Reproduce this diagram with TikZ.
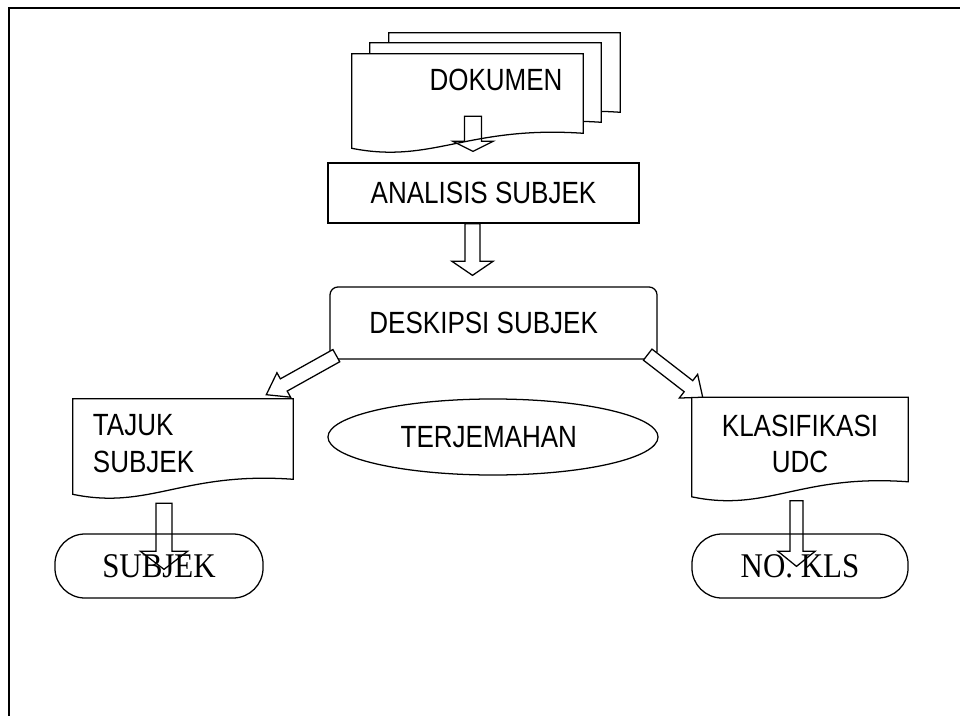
\documentclass[tikz,border=0pt]{standalone}
\usepackage{fontspec}
\setmainfont{Liberation Sans}
\newfontfamily\timesfont{Liberation Serif}
\usetikzlibrary{calc,shapes}

\pgfdeclarelayer{background}
\pgfsetlayers{background,main}

\tikzset{
  box/.style={draw, line width=0.9pt, fill=white, inner sep=0pt, font=\fontsize{18.5}{22}\selectfont},
  docbox/.style={inner sep=0pt, font=\fontsize{18.5}{22}\selectfont},
  term/.style={draw, line width=0.9pt, rounded corners=0.75cm, inner sep=0pt, minimum width=#1, minimum height=1.6cm, font=\timesfont\fontsize{22}{26}\selectfont},
  barrow/.style={draw, line width=0.9pt, line join=miter}
}

% text drawn a little taller than wide, as in the scan
\newcommand{\tall}[2][1.18]{\scalebox{1}[#1]{#2}}

% outline of a document page (wavy bottom) round a node
\newcommand{\docline}[1]{%
  \begin{pgfonlayer}{background}
    \draw[line width=0.9pt, fill=white] (#1.south west) -- (#1.north west) -- (#1.north east) -- ($(#1.south east)+(0,-15)$)
      .. controls ($(#1.south)+(0,-23)$) and ($(#1.south west)!0.35!(#1.south east)+(0,16)$) .. (#1.south west) -- cycle;
  \end{pgfonlayer}}

% hollow block arrow: [opts]{from}{to}{shaft half width}{head half width}{head length}, in px
\newcommand{\blockarrow}[6][]{%
  \path ($(#3)!#6*0.025cm!(#2)$) coordinate (hb);
  \draw[barrow,#1] ($(#2)!#4*0.025cm!90:(#3)$) -- ($(hb)!#4*0.025cm!90:(#3)$) -- ($(hb)!#5*0.025cm!90:(#3)$) -- (#3)
    -- ($(hb)!#5*0.025cm!-90:(#3)$) -- ($(hb)!#4*0.025cm!-90:(#3)$) -- ($(#2)!#4*0.025cm!-90:(#3)$) -- cycle;}

\begin{document}
\begin{tikzpicture}[x=0.025cm, y=-0.025cm]
  \useasboundingbox (0,0) rectangle (960,716);
  \draw[line width=1.3pt] (960,8) -- (9,8) -- (9,716);

  % the stack of documents
  \node[docbox, minimum width=5.775cm, minimum height=2.35cm] (dokback) at (504.5,80) {};
  \node[docbox, minimum width=5.775cm, minimum height=2.35cm] (dokmid) at (485.5,90) {};
  \node[docbox, minimum width=5.775cm, minimum height=2.35cm] (dok) at (467.5,101) {};
  \docline{dokback}
  \docline{dokmid}
  \docline{dok}
  \node[docbox] (doktext) at (496,80) {\tall{DOKUMEN}};

  \node[box, minimum width=7.775cm, minimum height=1.5cm] (analisis) at (483.5,193) {\tall{ANALISIS SUBJEK}};
  \node[box, rounded corners=0.2cm, minimum width=8.175cm, minimum height=1.8cm] (deskripsi) at (493.5,323) {\tall{DESKIPSI SUBJEK\hspace{14pt}}};

  \node[docbox, minimum width=5.5cm, minimum height=2.375cm, text width=4.5cm, align=left] (tajuk) at (183,446.5)
    {\tall{\begin{tabular}{@{}l@{}}TAJUK\\SUBJEK\end{tabular}}};
  \node[docbox, minimum width=5.4cm, minimum height=2.475cm, align=center] (klas) at (800,447)
    {\tall{\begin{tabular}{@{}c@{}}KLASIFIKASI\\UDC\end{tabular}}};
  \docline{tajuk}
  \docline{klas}

  \node[box, ellipse, minimum width=8.25cm, minimum height=1.9cm] (terjemah) at (493,437) {\tall{TERJEMAHAN\hspace{6pt}}};

  \node[term=5.2cm] (subjek) at (159,566) {\tall[1.12]{SUBJEK}};
  \node[term=5.4cm] (nokls) at (800,566) {\tall[1.12]{NO. KLS}};

  % arrows
  \coordinate (d1) at ($(analisis.north)+(-10.5,-46)$);
  \coordinate (d2) at ($(analisis.north)+(-10.5,-11)$);
  \blockarrow{d1}{d2}{8.5}{20}{10}

  \coordinate (a1) at ($(analisis.south)+(-11,0)$);
  \coordinate (a2) at ($(deskripsi.north)+(-21,-11)$);
  \blockarrow{a1}{a2}{7.5}{20.5}{14}

  \coordinate (l1) at ($(deskripsi.south west)+(7,-4)$);
  \coordinate (l2) at ($(tajuk.north east)+(-27,-4)$);
  \blockarrow[fill=white]{l1}{l2}{7}{14}{20}

  \coordinate (r1) at ($(deskripsi.south east)+(-10,-5)$);
  \coordinate (r2) at ($(klas.north west)+(11,0)$);
  \blockarrow[fill=white]{r1}{r2}{7}{15}{18}

  \coordinate (t1) at ($(tajuk.south)+(-19,9)$);
  \coordinate (t2) at ($(subjek.north)+(5,36)$);
  \blockarrow{t1}{t2}{8}{23.5}{18}

  \coordinate (k1) at ($(klas.south)+(-3.5,4)$);
  \coordinate (k2) at ($(nokls.north)+(-3.5,33)$);
  \blockarrow{k1}{k2}{6.5}{18.5}{15}
\end{tikzpicture}
\end{document}
